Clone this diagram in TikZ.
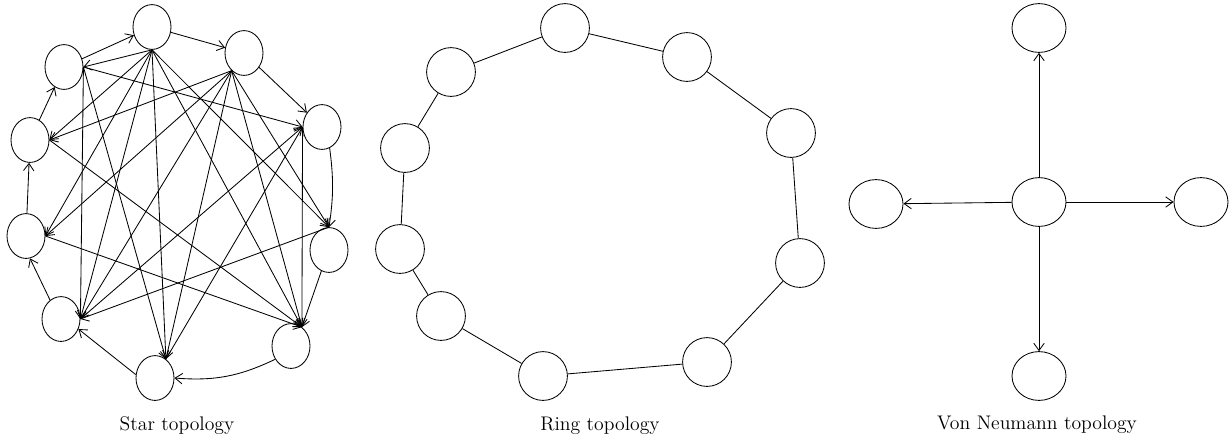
\documentclass[tikz,border=0pt]{standalone}
\usepackage{tikz}
\usetikzlibrary{shapes.geometric, arrows.meta, positioning}

\begin{document}
\begin{tikzpicture}[
            % one unit = one pixel of the layout, y pointing down
            x=0.025cm, y=-0.025cm,
            line width=0.6pt,
            particle/.style={
                draw, ellipse,
                minimum width=0.95cm,
                minimum height=1.12cm,
                inner sep=0pt
            },
            ringnode/.style={
                draw, circle,
                minimum size=1.22cm,
                inner sep=0pt
            },
            vnnode/.style={
                draw, ellipse,
                minimum width=1.35cm,
                minimum height=1.22cm,
                inner sep=0pt
            },
            arrow/.style={-{Straight Barb[length=1.8mm, width=2.6mm]}},
            caption/.style={font=\fontsize{14}{16}\selectfont}
        ]
        \useasboundingbox (0,0) rectangle (1230,443);

        % Star topology: particles
        \node[particle] (p1) at (152,27) {};
        \node[particle] (p2) at (244,53) {};
        \node[particle] (p3) at (322,127) {};
        \node[particle] (p4) at (329,250) {};
        \node[particle] (p5) at (291,346) {};
        \node[particle] (p6) at (155,378) {};
        \node[particle] (p7) at (61,319) {};
        \node[particle] (p8) at (26,236) {};
        \node[particle] (p9) at (30,140) {};
        \node[particle] (p10) at (64,67) {};
        \node[caption] (starcap) at (177,426) {Star topology};

        % outer cycle
        \draw[arrow] (p10) -- (p1);
        \draw[arrow] (p1) -- (p2);
        \draw[arrow] (p2) -- (p3);
        \draw[arrow] (p3.-70) to[bend left=8] (p4.north);
        \draw[arrow] (p4.-110) -- (p5.60);
        \draw[arrow] (p5.-140) to[bend left=15] (p6.east);
        \draw[arrow] (p6.170) -- (p7.-30);
        \draw[arrow] (p7.120) -- (p8.-80);
        \draw[arrow] (p8) -- (p9);
        \draw[arrow] (p9) -- (p10);

        % links from p1
        \draw[arrow] (p1.south) -- (p10.east);
        \draw[arrow] (p1.south) -- (p9.east);
        \draw[arrow] (p1.south) -- (p8.east);
        \draw[arrow] (p1.south) -- (p7.east);
        \draw[arrow] (p1.south) -- (p6.60);
        \draw[arrow] (p1.south) -- (p5.60);
        \draw[arrow] (p1.south) -- (p4.north);

        % links from p2
        \draw[arrow] (p2.235) -- (p9.east);
        \draw[arrow] (p2.235) -- (p8.east);
        \draw[arrow] (p2.235) -- (p7.east);
        \draw[arrow] (p2.235) -- (p6.60);
        \draw[arrow] (p2.235) -- (p5.60);
        \draw[arrow] (p2.235) -- (p4.north);

        % remaining links
        \draw[arrow] (p10.east) -- (p3.west);
        \draw[arrow] (p10.east) -- (p7.east);
        \draw[arrow] (p10.east) -- (p6.60);
        \draw[arrow] (p9.east) -- (p5.60);
        \draw[arrow] (p8.east) -- (p5.60);
        \draw[arrow] (p4.north) -- (p7.east);
        \draw[arrow] (p7.east) -- (p3.west);
        \draw[arrow] (p6.60) -- (p3.west);
        \draw[arrow] (p3.west) -- (p5.60);

        % Ring topology
        \node[ringnode] (r1) at (565,28) {};
        \node[ringnode] (r2) at (687,57) {};
        \node[ringnode] (r3) at (791,133) {};
        \node[ringnode] (r4) at (800,263) {};
        \node[ringnode] (r5) at (707,362) {};
        \node[ringnode] (r6) at (543,376) {};
        \node[ringnode] (r7) at (441,316) {};
        \node[ringnode] (r8) at (400,249) {};
        \node[ringnode] (r9) at (405,148) {};
        \node[ringnode] (r10) at (451,72) {};
        \node[caption] (ringcap) at (600,426) {Ring topology};

        \draw (r1) -- (r2) -- (r3) -- (r4) -- (r5) -- (r6) -- (r7) -- (r8) -- (r9) -- (r10) -- (r1);

        % Von Neumann topology
        \node[vnnode] (vc) at (1039,202) {};
        \node[vnnode] (vn) at (1039,28) {};
        \node[vnnode] (vs) at (1039,376) {};
        \node[vnnode] (vw) at (876,204) {};
        \node[vnnode] (ve) at (1201,202) {};
        \node[caption] (vncap) at (1037,425) {Von Neumann topology};

        \draw[arrow] (vc) -- (vn);
        \draw[arrow] (vc) -- (vs);
        \draw[arrow] (vc) -- (vw);
        \draw[arrow] (vc) -- (ve);

\end{tikzpicture}
\end{document}
